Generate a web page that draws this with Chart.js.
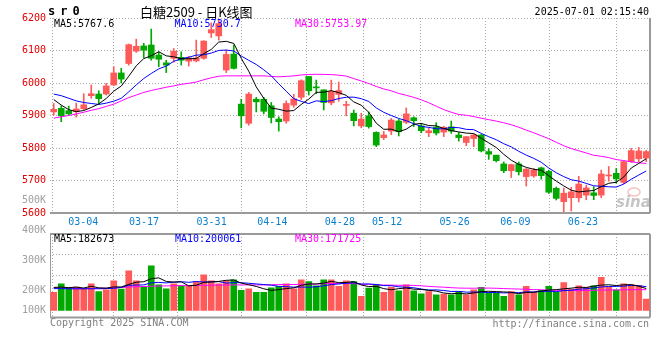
<!DOCTYPE html>
<html><head><meta charset="utf-8">
<script src="https://cdn.jsdelivr.net/npm/chart.js@4.4.1/dist/chart.umd.min.js"></script>
<style>
html,body{margin:0;padding:0;background:#fff;}
#wrap{position:relative;width:660px;height:360px;overflow:hidden;background:#fff;}
#cp{position:absolute;left:0;top:0;}
#cv{position:absolute;left:0;top:190px;}
</style></head><body>
<div id="wrap"><canvas id="cp" width="660" height="232"></canvas><canvas id="cv" width="660" height="170"></canvas></div>
<script>
// ---------------- DATA ----------------
const DATES = ['03-04','03-05','03-06','03-07','03-10','03-11','03-12','03-13','03-14','03-17','03-18','03-19','03-20','03-21','03-24','03-25','03-26','03-27','03-28','03-31',
'04-01','04-02','04-03','04-07','04-08','04-09','04-10','04-11','04-14','04-15','04-16','04-17','04-18','04-21','04-22','04-23','04-24','04-25','04-28','04-29','04-30',
'05-06','05-07','05-08','05-09','05-12','05-13','05-14','05-15','05-16','05-19','05-20','05-21','05-22','05-23','05-26','05-27','05-28','05-29','05-30',
'06-03','06-04','06-05','06-06','06-09','06-10','06-11','06-12','06-13','06-16','06-17','06-18','06-19','06-20','06-23','06-24','06-25','06-26','06-27','06-30'];
const AXIS_DATES = ['03-04','03-17','03-31','04-14','04-28','05-12','05-26','06-09','06-23'];

const OPEN = [5911,5922,5915,5912,5921,5961,5966,5966,5994,6031, 6060,6098,6114,6117,6086,6062,6076,6079,6067,6068,
6076,6154,6145,6040,6089,5935,5876,5950,5950,5930, 5889,5883,5932,5956,6020,5988,5979,5939,5965,5931,
5907,5868,5899,5848,5832,5852,5883,5879,5893,5868, 5847,5864,5849,5865,5840,5817,5829,5840,5789,5778,
5751,5730,5751,5712,5714,5739,5728,5676,5635,5647, 5647,5655,5662,5655,5714,5722,5694,5758,5767,5769];
const HIGH = [5937,5930,5929,5938,5967,5994,5976,5999,6050,6045, 6120,6135,6122,6166,6096,6070,6106,6096,6082,6132,
6130,6185,6195,6101,6117,5950,5971,5956,5956,5940, 5896,5945,5965,6010,6020,6009,5979,6009,6003,5944,
5917,5907,5911,5850,5851,5891,5888,5923,5896,5876, 5862,5878,5867,5883,5848,5835,5842,5842,5798,5778,
5757,5750,5757,5737,5737,5741,5732,5680,5677,5679, 5713,5686,5681,5732,5743,5737,5760,5799,5802,5793];
const LOW = [5901,5881,5900,5895,5918,5953,5936,5963,5992,6000, 6055,6094,6078,6070,6050,6032,6064,6055,6052,6065,
6073,6140,6132,6032,6043,5862,5870,5911,5905,5877, 5852,5876,5925,5949,5963,5967,5917,5933,5944,5899,
5868,5862,5861,5804,5826,5841,5837,5875,5866,5847, 5835,5840,5835,5845,5821,5807,5804,5788,5765,5757,
5724,5709,5717,5683,5710,5704,5660,5640,5604,5606, 5634,5641,5641,5647,5698,5692,5690,5756,5758,5758];
const CLOSE = [5919,5899,5905,5920,5933,5967,5952,5991,6031,6012, 6118,6113,6101,6076,6073,6055,6098,6070,6077,6077,
6129,6164,6183,6088,6045,5899,5966,5942,5913,5894, 5881,5937,5951,6007,5976,5985,5940,5974,5977,5934,
5884,5889,5866,5809,5840,5886,5850,5905,5884,5853, 5853,5846,5864,5852,5832,5835,5840,5791,5781,5761,
5730,5749,5727,5735,5732,5715,5664,5645,5661,5665, 5689,5677,5654,5720,5717,5705,5758,5792,5791,5789];
const VOLUME = [150000,223000,187000,195000,181000,223000,158000,173000,248000,179000,
331000,248000,195000,373000,214000,181000,223000,206000,201000,242000,
298000,248000,223000,248000,256000,167000,181000,150000,150000,188000,
201000,223000,181000,256000,242000,206000,256000,256000,201000,248000,
242000,117000,187000,214000,150000,195000,164000,214000,164000,139000,
158000,131000,136000,131000,158000,131000,173000,192000,145000,145000,
117000,158000,131000,201000,150000,167000,201000,150000,233000,179000,
206000,192000,206000,276000,192000,173000,223000,214000,208000,95000];

// moving-average values before the window
const MA5_HEAD  = [5949,5932,5918,5912];
const MA10_HEAD = [5966,5961,5953,5945,5940,5937,5934,5938,5944];
const MA30_HEAD = [5892,5896,5900,5905,5910,5916,5921,5928,5935,5945,5955,5963,5971,5977,5982,5987,5991,5996,5999,6003,6010,6016,6021,6022,6022,6022,6022,6022,6022];
const VMA5_HEAD  = [192000,195000,190000,195000];
const VMA10_HEAD = [182000,182000,181000,180000,180000,181000,181000,182000,185000];
const VMA30_HEAD = [189000,188000,186000,184000,183000,183000,184000,186000,189000,192000,195000,198000,200000,202000,204000,205000,206000,207000,208000,209000,210000,211000,212000,212000,213000,213000,213000,213000,213000];

const PRICE_MA_LAST = [5767.6, 5730.7, 5753.97];
const VOL_MA_LAST = [182673, 200061, 171725];
const VOL_AXIS_LABELS = ['500K','400K','300K','200K','100K'];
const TITLE = '白糖2509 - 日K线图';
const CODE = 'sr0';
const STAMP = '2025-07-01 02:15:40';
const COPYRIGHT = 'Copyright 2025 SINA.COM';
const URL_TEXT = 'http://finance.sina.com.cn';

// ---------------- HELPERS ----------------
function movingAverage(values, n, head) {
  return values.map((v, i) => {
    if (i < n - 1) return head[i];
    let s = 0; for (let j = i - n + 1; j <= i; j++) s += values[j];
    return s / n;
  });
}
const RED = '#ff5a5a', GREEN = '#00a800';
const MA_COLORS = ['#000000', '#0000ff', '#ff00ff'];
const GRID = '#a8a8a8', FRAME = '#9a9a9a';
const MONO = '"DejaVu Sans Mono", monospace';
const candleColor = OPEN.map((o, i) => CLOSE[i] >= o ? RED : GREEN);
const dateTicks = s => { s.ticks = AXIS_DATES.map(d => ({ value: DATES.indexOf(d) })); };

function lineDs(label, data, color) {
  return { type: 'line', label, data, borderColor: color, borderWidth: 1, pointRadius: 0,
           tension: 0, fill: false, order: 0, xAxisID: 'x', yAxisID: 'y' };
}

// ---------------- PRICE CHART ----------------
const priceDeco = {
  id: 'priceDeco',
  beforeDatasetsDraw(chart) {
    const { ctx, chartArea: a } = chart;
    ctx.save();
    // sina watermark
    ctx.strokeStyle = 'rgba(235,120,120,0.45)'; ctx.lineWidth = 1.5;
    ctx.beginPath(); ctx.ellipse(634, 192, 6, 4, 0, 0, Math.PI * 2); ctx.stroke();
    ctx.fillStyle = 'rgba(150,150,150,0.55)';
    ctx.font = 'italic bold 15px "DejaVu Sans", sans-serif';
    ctx.textAlign = 'left'; ctx.textBaseline = 'alphabetic';
    ctx.fillText('sina', 616, 207);
    // solid bottom and right frame
    ctx.strokeStyle = FRAME; ctx.lineWidth = 2;
    ctx.beginPath();
    ctx.moveTo(a.left, a.bottom); ctx.lineTo(a.right, a.bottom);
    ctx.moveTo(a.right, a.top); ctx.lineTo(a.right, a.bottom);
    ctx.stroke();
    ctx.restore();
  },
  afterDraw(chart) {
    const { ctx, chartArea: a } = chart;
    ctx.save();
    ctx.textBaseline = 'middle';
    ctx.fillStyle = '#000';
    ctx.font = 'bold 12px ' + MONO;
    ctx.letterSpacing = '5px';
    ctx.textAlign = 'left';
    ctx.fillText(CODE, 48, 12);
    ctx.letterSpacing = '0px';
    ctx.font = '13px "Noto Sans CJK SC", sans-serif';
    ctx.fillText(TITLE, 140, 12);
    ctx.font = '10px ' + MONO;
    ctx.textAlign = 'right';
    ctx.fillText(STAMP, 649, 12);
    ctx.textAlign = 'left';
    const names = ['MA5', 'MA10', 'MA30'];
    const xs = [a.left + 4, a.left + 124.5, a.left + 245];
    names.forEach((n, i) => {
      ctx.fillStyle = MA_COLORS[i];
      ctx.fillText(n + ':' + PRICE_MA_LAST[i], xs[i], a.top + 6);
    });
    ctx.restore();
  }
};

new Chart(document.getElementById('cp'), {
  type: 'bar',
  data: {
    labels: DATES,
    datasets: [
      lineDs('MA5', movingAverage(CLOSE, 5, MA5_HEAD), MA_COLORS[0]),
      lineDs('MA10', movingAverage(CLOSE, 10, MA10_HEAD), MA_COLORS[1]),
      lineDs('MA30', movingAverage(CLOSE, 30, MA30_HEAD), MA_COLORS[2]),
      { type: 'bar', label: 'wick', data: LOW.map((l, i) => [l, HIGH[i]]), backgroundColor: candleColor,
        barThickness: 1, grouped: false, order: 2, xAxisID: 'x', yAxisID: 'y' },
      { type: 'bar', label: 'body', data: OPEN.map((o, i) => [o, CLOSE[i]]), backgroundColor: candleColor,
        barThickness: 6, minBarLength: 1, grouped: false, order: 1, xAxisID: 'x', yAxisID: 'y' }
    ]
  },
  options: {
    responsive: false, animation: false, devicePixelRatio: 1,
    layout: { padding: { top: 18, right: 10, left: 0, bottom: 0 } },
    plugins: { legend: { display: false }, tooltip: { enabled: false } },
    scales: {
      x: { type: 'category', display: false, offset: true },
      xd: { type: 'linear', position: 'bottom', min: 0, max: DATES.length - 1,
        afterBuildTicks: dateTicks,
        afterFit: s => { s.height = 19; },
        ticks: { autoSkip: false, maxRotation: 0, padding: 3, color: '#0a7fcc',
                 font: { family: MONO, size: 10 }, callback: (v, i) => AXIS_DATES[i] },
        grid: { color: GRID, drawTicks: false, lineWidth: 1 },
        border: { display: false, dash: [1, 2] } },
      y: { min: 5600, max: 6200, position: 'left',
        afterFit: s => { s.width = 50; },
        ticks: { stepSize: 100, padding: 4, color: '#e00000', font: { family: MONO, size: 10 },
                 callback: v => String(v) },
        grid: { color: GRID, drawTicks: false, lineWidth: 1 },
        border: { display: false, dash: [1, 2] } }
    }
  },
  plugins: [priceDeco]
});

// ---------------- VOLUME CHART ----------------
const volDeco = {
  id: 'volDeco',
  beforeDatasetsDraw(chart) {
    const { ctx, chartArea: a } = chart;
    ctx.save();
    ctx.strokeStyle = FRAME; ctx.lineWidth = 2;
    ctx.beginPath();
    ctx.moveTo(a.left, a.top); ctx.lineTo(a.right, a.top);
    ctx.moveTo(a.left, a.bottom); ctx.lineTo(a.right, a.bottom);
    ctx.moveTo(a.right, a.top); ctx.lineTo(a.right, a.bottom);
    ctx.stroke();
    ctx.lineWidth = 1;
    ctx.beginPath(); ctx.moveTo(a.left + 0.5, a.top); ctx.lineTo(a.left + 0.5, a.bottom); ctx.stroke();
    ctx.restore();
  },
  afterDraw(chart) {
    const { ctx, chartArea: a } = chart;
    ctx.save();
    ctx.textBaseline = 'middle';
    ctx.font = '10px ' + MONO;
    // left axis labels
    ctx.fillStyle = '#a0a0a0'; ctx.textAlign = 'right';
    VOL_AXIS_LABELS.forEach((t, i) => {
      const y = Math.min(a.top - 34 + i * 30, a.bottom - 7.5);
      ctx.fillText(t, a.left - 4, y);
    });
    // legends
    ctx.textAlign = 'left';
    const names = ['MA5', 'MA10', 'MA30'];
    const xs = [a.left + 4, a.left + 125, a.left + 245];
    names.forEach((n, i) => {
      ctx.fillStyle = MA_COLORS[i];
      ctx.fillText(n + ':' + VOL_MA_LAST[i], xs[i], a.top + 5);
    });
    // footer
    ctx.fillStyle = '#808080';
    ctx.fillText(COPYRIGHT, a.left, a.bottom + 6);
    ctx.textAlign = 'right';
    ctx.fillText(URL_TEXT, a.right - 1, a.bottom + 6.5);
    ctx.restore();
  }
};

new Chart(document.getElementById('cv'), {
  type: 'bar',
  data: {
    labels: DATES,
    datasets: [
      lineDs('VMA5', movingAverage(VOLUME, 5, VMA5_HEAD), MA_COLORS[0]),
      lineDs('VMA10', movingAverage(VOLUME, 10, VMA10_HEAD), MA_COLORS[1]),
      lineDs('VMA30', movingAverage(VOLUME, 30, VMA30_HEAD), MA_COLORS[2]),
      { type: 'bar', label: 'volume', data: VOLUME, backgroundColor: candleColor,
        barThickness: 6, order: 1, xAxisID: 'x', yAxisID: 'y' }
    ]
  },
  options: {
    responsive: false, animation: false, devicePixelRatio: 1,
    layout: { padding: { top: 44, right: 10, left: 0, bottom: 42.5 } },
    plugins: { legend: { display: false }, tooltip: { enabled: false } },
    scales: {
      x: { type: 'category', display: false, offset: true },
      xd: { type: 'linear', position: 'bottom', min: 0, max: DATES.length - 1,
        afterBuildTicks: dateTicks,
        afterFit: s => { s.height = 0; },
        ticks: { display: false },
        grid: { color: GRID, drawTicks: false, lineWidth: 1 },
        border: { display: false, dash: [1, 2] } },
      y: { min: -60000, max: 640000, position: 'left',
        afterBuildTicks: s => { s.ticks = [0.5, 0.75].map(f => ({ value: s.min + (s.max - s.min) * f })); },
        afterFit: s => { s.width = 50; },
        ticks: { display: false },
        grid: { color: GRID, drawTicks: false, lineWidth: 1 },
        border: { display: false, dash: [1, 2] } }
    }
  },
  plugins: [volDeco]
});
</script>
</body></html>
